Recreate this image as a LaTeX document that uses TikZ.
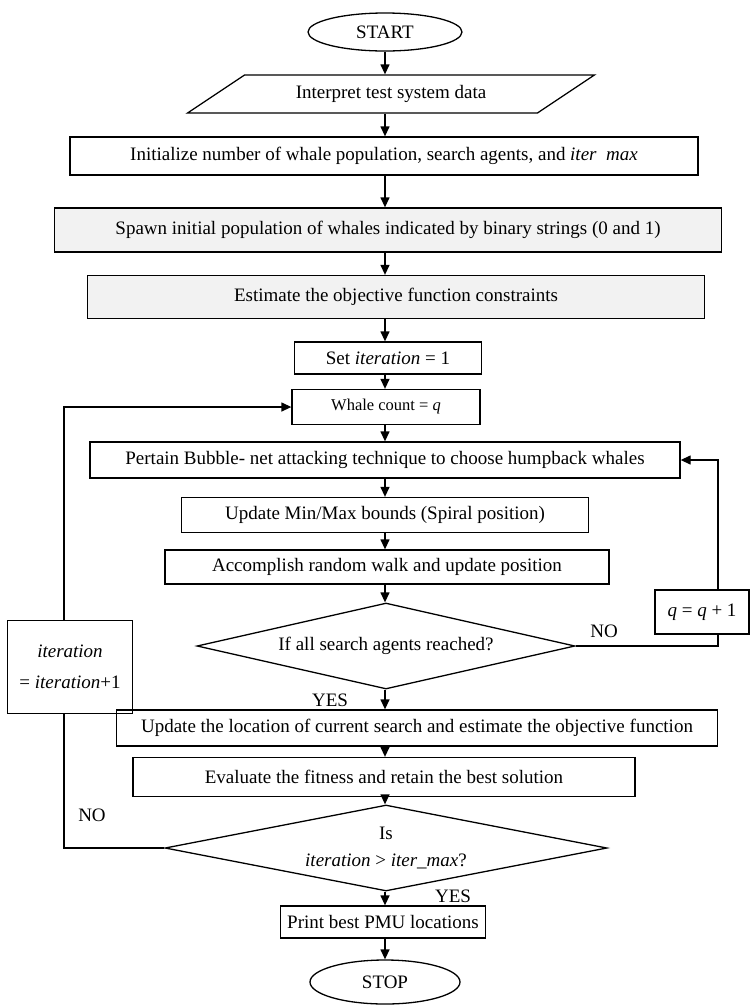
\documentclass[tikz,border=0pt]{standalone}
\usepackage{fontspec}
\setmainfont{Liberation Serif}
\usetikzlibrary{shapes.geometric, arrows.meta}
\definecolor{boxGray}{HTML}{F2F2F2}
\begin{document}
\begin{tikzpicture}[x=1pt, y=-1pt,
    every node/.style={font=\fontsize{19}{23}\selectfont},
    boxStyle/.style={rectangle, draw, line width=1.3pt, inner sep=0pt},
    grayStyle/.style={boxStyle, fill=boxGray},
    termStyle/.style={ellipse, draw, line width=1.3pt, inner sep=0pt},
    ioStyle/.style={trapezium, trapezium left angle=25, trapezium right angle=155, trapezium stretches=true, draw, line width=1.3pt, inner sep=0pt},
    decStyle/.style={diamond, draw, line width=1.3pt, inner sep=0pt, align=center},
    labelStyle/.style={inner sep=0pt},
    arrowStyle/.style={-{Triangle[length=10pt, width=9pt]}, line width=1.3pt},
    lineStyle/.style={line width=1.3pt}]
    \path[use as bounding box, clip] (0,0) rectangle (750,1005);

    \node[termStyle, minimum width=154, minimum height=38](start) at (385, 32) {START};
    \node[ioStyle, minimum width=408, minimum height=38](1) at (391, 94) {Interpret test system data};
    \node[boxStyle, minimum width=628, minimum height=38](2) at (384, 156) {Initialize number of whale population, search agents, and \textit{iter}\ \ \textit{max}};
    \node[grayStyle, minimum width=667, minimum height=44](3) at (388, 230) {Spawn initial population of whales indicated by binary strings (0 and 1)};
    \node[grayStyle, minimum width=617, minimum height=43](4) at (396, 297) {Estimate the objective function constraints};
    \node[boxStyle, minimum width=187, minimum height=32](5) at (388, 358) {Set \textit{iteration} = 1};
    \node[boxStyle, minimum width=188, minimum height=35, font=\fontsize{16.5}{19}\selectfont](6) at (386, 407) {Whale count = \textit{q}};
    \node[boxStyle, minimum width=590, minimum height=36](7) at (385, 460) {Pertain Bubble- net attacking technique to choose humpback whales};
    \node[boxStyle, minimum width=407, minimum height=35](8) at (385, 515) {Update Min/Max bounds (Spiral position)};
    \node[boxStyle, minimum width=444, minimum height=34](9) at (387, 567) {Accomplish random walk and update position};
    \node[decStyle, aspect=4.3, minimum width=378, minimum height=86](10) at (386, 646) {If all search agents reached?};
    \node[boxStyle, minimum width=601, minimum height=36](11) at (417, 728) {Update the location of current search and estimate the objective function};
    \node[boxStyle, minimum width=502, minimum height=39](12) at (384, 777) {Evaluate the fitness and retain the best solution};
    \node[decStyle, aspect=5.1, minimum width=442, minimum height=86, font=\fontsize{19}{27}\selectfont](13) at (386, 848) {Is\\\textit{iteration} > \textit{iter\_max}?};
    \node[boxStyle, minimum width=205, minimum height=32](14) at (383, 922) {Print best PMU locations};
    \node[termStyle, minimum width=150, minimum height=44](stop) at (385, 982) {STOP};

    \node[boxStyle, minimum width=94, minimum height=44](q) at (702, 612) {\textit{q} = \textit{q} + 1};
    \node[boxStyle, minimum width=125, minimum height=93, align=center, font=\fontsize{19}{31}\selectfont](it) at (70, 667) {\textit{iteration}\\= \textit{iteration}+1};

    \node[labelStyle](no1) at (604, 631) {NO};
    \node[labelStyle](yes1) at (330, 700) {YES};
    \node[labelStyle](no2) at (92, 815) {NO};
    \node[labelStyle](yes2) at (453, 896) {YES};

    % main flow
    \draw[arrowStyle] (start |- start.south) -- (start |- 1.north);
    \draw[arrowStyle] (start |- 1.south) -- (start |- 2.north);
    \draw[arrowStyle] (start |- 2.south) -- (start |- 3.north);
    \draw[arrowStyle] (start |- 3.south) -- (start |- 4.north);
    \draw[arrowStyle] (start |- 4.south) -- (start |- 5.north);
    \draw[arrowStyle] (start |- 5.south) -- (start |- 6.north);
    \draw[arrowStyle] (start |- 6.south) -- (start |- 7.north);
    \draw[arrowStyle] (start |- 7.south) -- (start |- 8.north);
    \draw[arrowStyle] (start |- 8.south) -- (start |- 9.north);
    \draw[arrowStyle] (start |- 9.south) -- (start |- 10.north);
    \draw[arrowStyle] (start |- 10.south) -- (start |- 11.north);
    \draw[arrowStyle] (start |- 11.south) -- (start |- 12.north);
    \draw[arrowStyle] (start |- 12.south) -- (start |- 13.north);
    \draw[arrowStyle] (start |- 13.south) -- (start |- 14.north);
    \draw[arrowStyle] (start |- 14.south) -- (start |- stop.north);

    % loops
    \draw[lineStyle] (10.east) -| ([xshift=16]q.south);
    \draw[arrowStyle] ([xshift=16]q.north) |- (7.east);
    \draw[lineStyle] (13.west) -| ([xshift=-6]it.south);
    \draw[arrowStyle] ([xshift=-6]it.north) |- (6.west);
\end{tikzpicture}
\end{document}
